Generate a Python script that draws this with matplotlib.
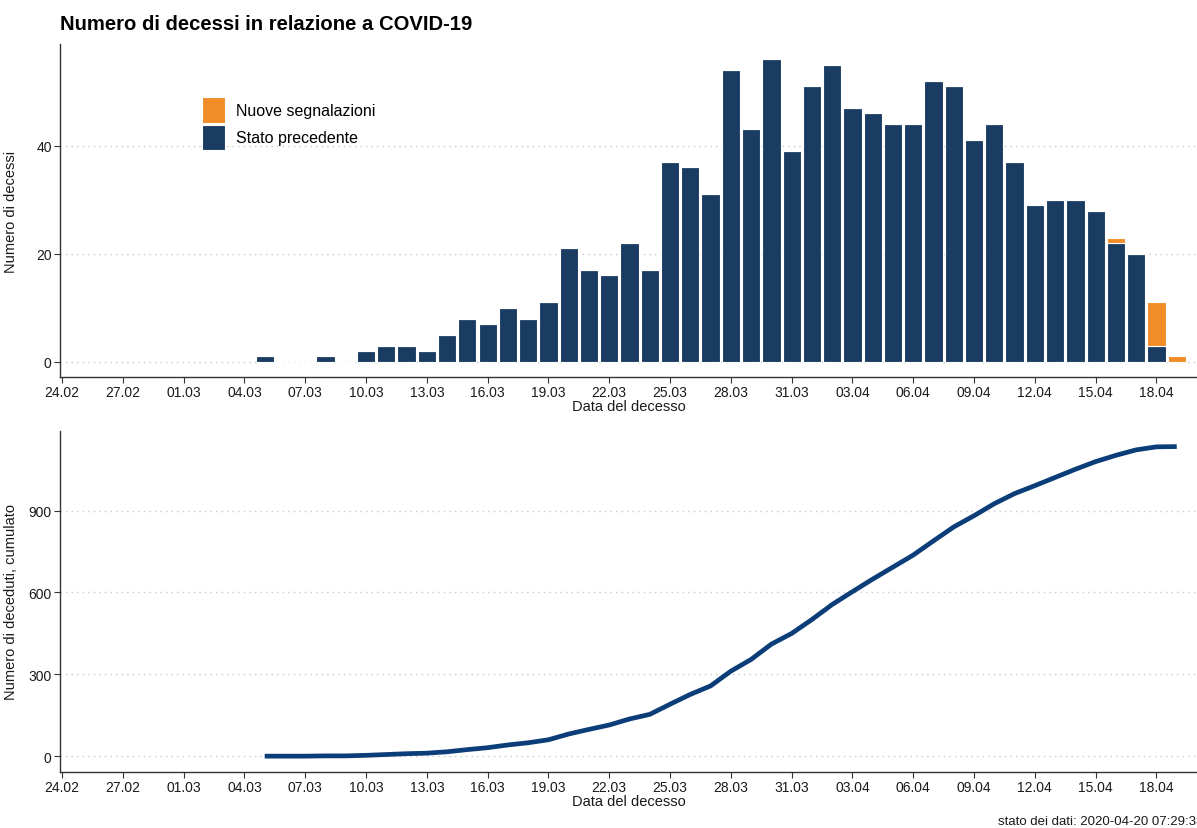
import pandas as pd
import matplotlib.pyplot as plt
import matplotlib.dates as mdates
import numpy as np

plt.rcParams['font.family'] = ['Liberation Sans', 'DejaVu Sans']

# deaths per day of death, 05.03 - 19.04
days = pd.date_range('2020-03-05', '2020-04-19', freq='D')
previous = [1, 0, 0, 1, 0, 2, 3, 3, 2, 5, 8, 7, 10, 8, 11,
            21, 17, 16, 22, 17, 37, 36, 31, 54, 43, 56, 39,
            51, 55, 47, 46, 44, 44, 52, 51, 41, 44, 37, 29, 30, 30, 28, 22, 20, 3, 0]
new_reports = [0] * 42 + [1, 0, 8, 1]
tick_days = pd.date_range('2020-02-24', '2020-04-18', freq='3D')
caption = 'stato dei dati: 2020-04-20 07:29:38'

navy = '#1b3c62'
orange = '#f28c28'
line_blue = '#0b3d78'

previous = np.array(previous)
new_reports = np.array(new_reports)
cumulative = np.cumsum(previous + new_reports)

W, H = 1197, 829
fig = plt.figure(figsize=(W / 100, H / 100), dpi=100)

def axes_px(left, top, right, bottom):
    return fig.add_axes([left / W, 1 - bottom / H, (right - left) / W, (bottom - top) / H])

ax1 = axes_px(60, 45, 1197, 378)
ax2 = axes_px(60, 432, 1197, 773)

xlim = (mdates.date2num(pd.Timestamp('2020-02-24')) - 0.1,
        mdates.date2num(pd.Timestamp('2020-04-20')))

def style(ax):
    ax.spines['top'].set_visible(False)
    ax.spines['right'].set_visible(False)
    ax.spines['left'].set_color('#333333')
    ax.spines['bottom'].set_color('#333333')
    ax.spines['left'].set_linewidth(1.0)
    ax.spines['bottom'].set_linewidth(1.0)
    ax.set_xlim(xlim)
    ax.set_xticks(tick_days)
    ax.xaxis.set_major_formatter(mdates.DateFormatter('%d.%m'))
    ax.tick_params(axis='both', length=4, width=0.8, color='#333333',
                   labelsize=10, labelcolor='#1a1a1a', pad=2)
    ax.yaxis.grid(True, linestyle=(0, (1, 3)), color='#c8c8c8', linewidth=1.0)
    ax.set_axisbelow(True)
    ax.set_xlabel('Data del decesso', fontsize=10.5, color='#1a1a1a', labelpad=0)
    ax.yaxis.set_label_coords(-0.037, 0.5)

# daily bars, stacked
ax1.bar(days, previous, width=0.9, color=navy, edgecolor='white', linewidth=0.8,
        label='Stato precedente')
ax1.bar(days, new_reports, bottom=previous, width=0.9, color=orange, edgecolor='white',
        linewidth=0.8, label='Nuove segnalazioni')
style(ax1)
ax1.set_ylim(-2.8, 58.8)
ax1.set_yticks([0, 20, 40])
ax1.set_ylabel('Numero di decessi', fontsize=10.5, color='#1a1a1a')
handles, labels = ax1.get_legend_handles_labels()
ax1.legend(handles[::-1], labels[::-1], loc='upper left', bbox_to_anchor=(0.125, 0.84),
           frameon=False, fontsize=11.5, handlelength=1.45, handleheight=2.1,
           labelspacing=0.1, handletextpad=0.65, borderpad=0, borderaxespad=0)

# cumulative line
ax2.plot(days, cumulative, color=line_blue, linewidth=3.4, solid_capstyle='butt')
style(ax2)
ax2.set_ylim(-57, 1191)
ax2.set_yticks([0, 300, 600, 900])
ax2.set_ylabel('Numero di deceduti, cumulato', fontsize=10.5, color='#1a1a1a')

fig.text(60 / W, 1 - 25 / H, 'Numero di decessi in relazione a COVID-19',
         fontsize=14.6, fontweight='bold', va='center', ha='left')
fig.text(1203 / W, 1 - 822 / H, caption, fontsize=9.5, ha='right', va='center', color='#1a1a1a')

fig.savefig('out.png', dpi=100)
